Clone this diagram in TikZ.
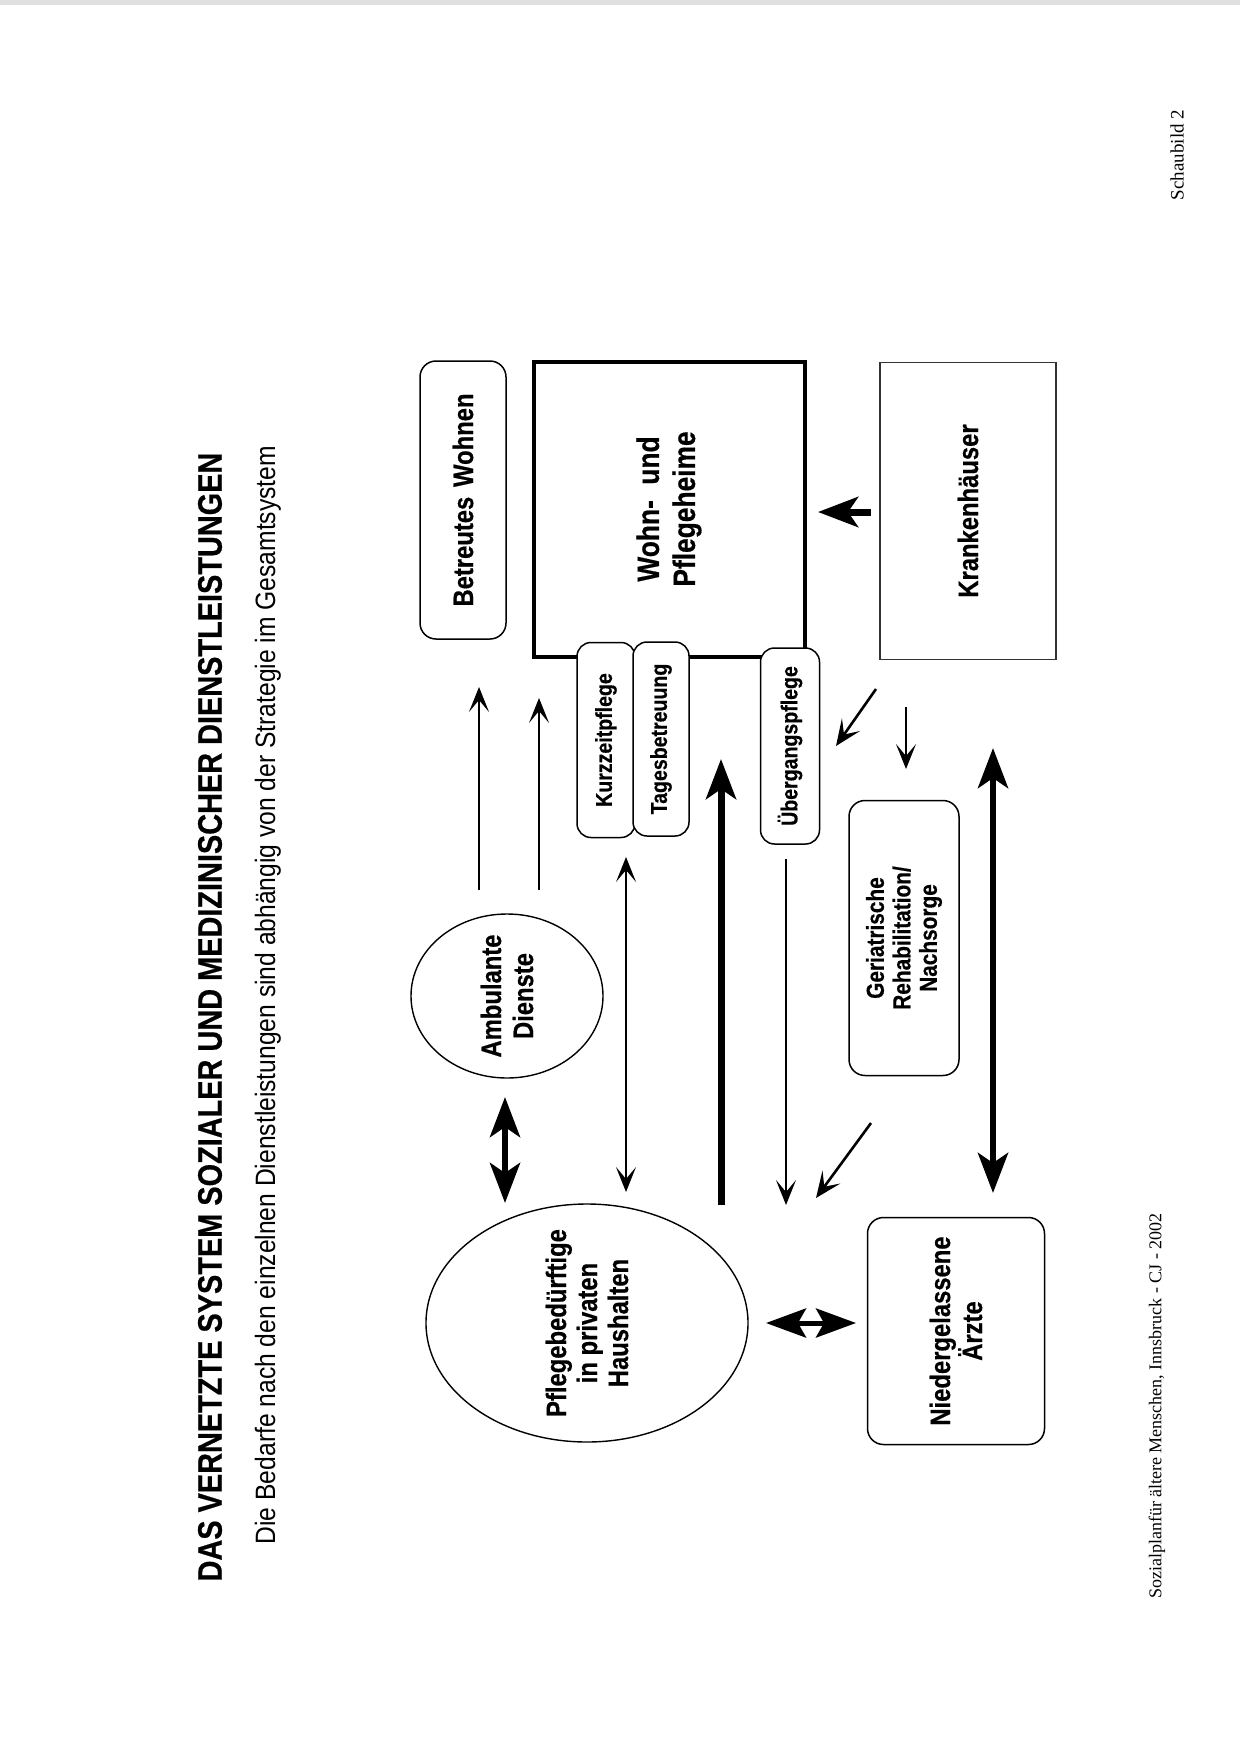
\documentclass[tikz,border=0pt]{standalone}
\usepackage{fontspec}
\setmainfont{Liberation Sans}
\newfontfamily\nbf[FakeStretch=0.85,FakeBold=0.5]{Liberation Sans Bold}
\newfontfamily\nrf[FakeStretch=0.88]{Liberation Sans}
\newfontfamily\serf{Liberation Serif}
\usetikzlibrary{arrows.meta,shapes.geometric}
\begin{document}
\begin{tikzpicture}[x=1pt,y=-1pt,
  box/.style={draw, rotate=90, rounded corners=16pt, line width=1.5pt, inner sep=0pt, align=center, font=\nbf\fontsize{28}{32}\selectfont},
  smallbox/.style={draw, fill=white, rotate=90, rounded corners=14pt, line width=1.5pt, inner sep=0pt, font=\nbf\fontsize{23}{26}\selectfont},
  oval/.style={draw, ellipse, rotate=90, line width=1.4pt, inner sep=0pt},
  lbl/.style={rotate=90, align=center, font=\nbf\fontsize{28}{32}\selectfont},
  thinarrow/.style={line width=1.5pt, -{Stealth[length=25pt,width=20pt,inset=12pt]}},
  thinboth/.style={line width=1.5pt, {Stealth[length=25pt,width=20pt,inset=12pt]}-{Stealth[length=25pt,width=20pt,inset=12pt]}},
  diagarrow/.style={line width=2.6pt, -{Stealth[length=26pt,width=22pt,inset=12pt]}},
  thickarrow/.style={line width=7pt, -{Stealth[length=40pt,width=30pt,inset=10pt]}},
  thickboth/.style={line width=6.5pt, {Stealth[length=40pt,width=30pt,inset=10pt]}-{Stealth[length=40pt,width=30pt,inset=10pt]}},
  fatboth/.style={line width=5pt, {Stealth[length=40pt,width=29pt,inset=8pt]}-{Stealth[length=40pt,width=29pt,inset=8pt]}}
]
\useasboundingbox (0,0) rectangle (1240,1753);
\fill[white] (0,0) rectangle (1240,1753);
\fill[black!12] (0,0) rectangle (1240,5);

% headings
\node[rotate=90, font=\nbf\fontsize{34}{40}\selectfont] (title) at (210,1017)
  {DAS VERNETZTE SYSTEM SOZIALER UND MEDIZINISCHER DIENSTLEISTUNGEN};
\node[rotate=90, font=\nrf\fontsize{28}{32}\selectfont] (sub) at (268,995)
  {Die Bedarfe nach den einzelnen Dienstleistungen sind abhängig von der Strategie im Gesamtsystem};

% boxes
\node[box, minimum width=278pt, minimum height=86pt] (bw) at (463,500) {Betreutes\hspace{0.35em}Wohnen};
\node[draw, rotate=90, line width=4pt, minimum width=295pt, minimum height=271pt, inner sep=0pt, align=center,
  font=\nbf\fontsize{31}{36}\selectfont] (wp) at (669,509) {Wohn-\hspace{0.5em}und\\Pflegeheime};
\node[draw=black!80, rotate=90, line width=1.2pt, minimum width=297pt, minimum height=176pt, inner sep=0pt,
  font=\nbf\fontsize{28}{32}\selectfont] (kh) at (968,511) {Krankenhäuser};

\node[smallbox, minimum width=195pt, minimum height=58pt] (kz) at (606,740) {Kurzzeitpflege};
\node[smallbox, minimum width=194pt, minimum height=56pt] (tb) at (661,739) {Tagesbetreuung};
\node[smallbox, minimum width=196pt, minimum height=59pt] (ug) at (790,746) {Übergangspflege};

\node[box, minimum width=275pt, minimum height=110pt, font=\nbf\fontsize{24.5}{26.5}\selectfont] (gr) at (904,938)
  {Geriatrische\\Rehabilitation/\\Nachsorge};
\node[box, minimum width=227pt, minimum height=177pt] (na) at (956,1331) {Niedergelassene\\Ärzte};

\node[oval, minimum width=164pt, minimum height=192pt] (ad) at (507,996) {};
\node[lbl] (adt) at (ad.center) {Ambulante\\Dienste};
\node[oval, minimum width=238pt, minimum height=322pt] (ph) at (587,1323) {};
\node[lbl, font=\nbf\fontsize{28}{31}\selectfont] (pht) at (ph.center) {Pflegebedürftige\\in privaten\\Haushalten};

% footers
\node[rotate=90, font=\serf\fontsize{19}{22}\selectfont] (sb) at (1177,155) {Schaubild 2};
\node[rotate=90, font=\serf\fontsize{18}{21}\selectfont] (ft) at (1157,1406)
  {Sozialplanfür ältere Menschen, Innsbruck - CJ - 2002};

% arrow end points
\coordinate (a1s) at (479,890); \coordinate (a1e) at (479,687);
\coordinate (a2s) at (539,890); \coordinate (a2e) at (539,698);
\coordinate (a3s) at (626,857); \coordinate (a3e) at (626,1192);
\coordinate (a4s) at (721,1205); \coordinate (a4e) at (721,759);
\coordinate (a5s) at (786,859); \coordinate (a5e) at (786,1205);
\coordinate (a6s) at (871,1123); \coordinate (a6e) at (816,1198);
\coordinate (a7s) at (876,689); \coordinate (a7e) at (836,746);
\coordinate (a8s) at (906,707); \coordinate (a8e) at (906,769);
\coordinate (a9s) at (993,748); \coordinate (a9e) at (993,1193);
\coordinate (a10s) at (871,512); \coordinate (a10e) at (818,512);
\coordinate (a11s) at (505,1097); \coordinate (a11e) at (505,1203);
\coordinate (a12s) at (766,1323); \coordinate (a12e) at (856,1323);

\draw[thinarrow] (a1s) -- (a1e);
\draw[thinarrow] (a2s) -- (a2e);
\draw[thinboth] (a3s) -- (a3e);
\draw[thickarrow] (a4s) -- (a4e);
\draw[thinarrow] (a5s) -- (a5e);
\draw[diagarrow] (a6s) -- (a6e);
\draw[diagarrow] (a7s) -- (a7e);
\draw[thinarrow] (a8s) -- (a8e);
\draw[thickboth] (a9s) -- (a9e);
\draw[thickarrow] (a10s) -- (a10e);
\draw[thickboth] (a11s) -- (a11e);
\draw[fatboth] (a12s) -- (a12e);
\end{tikzpicture}
\end{document}
